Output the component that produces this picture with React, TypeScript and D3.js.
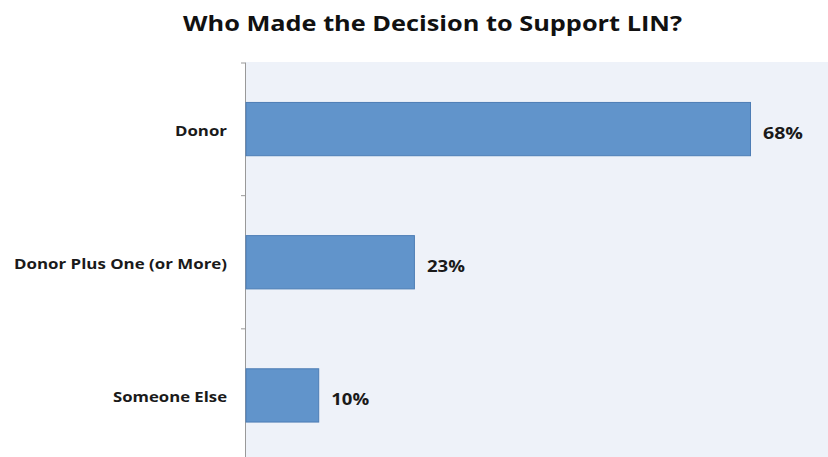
import React from "react";
import * as d3 from "d3";

const categories = ["Donor", "Donor Plus One (or More)", "Someone Else"];
const values = [68, 22.7, 9.8];
const labelWidths = [52, 213, 114];
const valueLabelWidths = [40, 38, 38];
const title = "Who Made the Decision to Support LIN?";

export default function App() {
  const W = 828, H = 457;
  const x0 = 246;
  const y = d3.scaleBand<string>().domain(categories).range([62.5, 462]).paddingInner(0.6).paddingOuter(0.3);
  const x = d3.scaleLinear().domain([0, 68]).range([x0, 750.5]);
  const font = "'Open Sans', sans-serif";
  const ticks = [63, ...categories.map((c) => (y(c) as number) + y.bandwidth() / 2 + y.step() / 2)];
  return (
    <svg width={W} height={H} style={{ position: "absolute", left: 0, top: 0, background: "#fff" }}>
      <rect x={x0 - 1} y={62} width={W - x0 + 1} height={H - 62} fill="#eef2f9" />
      <text x={432.5} y={31} textAnchor="middle" fontFamily={font} fontWeight={700} fontSize={21} fill="#111" textLength={499} lengthAdjust="spacingAndGlyphs">{title}</text>
      <line x1={x0 - 0.5} x2={x0 - 0.5} y1={63} y2={H} stroke="#999" strokeWidth={1} />
      {ticks.map((t, i) => (
        <line key={i} x1={x0 - 5} x2={x0} y1={t} y2={t} stroke="#999" strokeWidth={1} />
      ))}
      {categories.map((c, i) => {
        const by = y(c) as number;
        const bh = y.bandwidth();
        const cy = by + bh / 2;
        return (
          <g key={c}>
            <rect x={x(0)} y={by} width={x(values[i]) - x(0)} height={bh} fill="#6194cb" stroke="#4d7db5" strokeWidth={1} />
            <text x={227} y={cy + 7} textAnchor="end" fontFamily={font} fontWeight={700} fontSize={15} fill="#1a1a1a" textLength={labelWidths[i]} lengthAdjust="spacingAndGlyphs">{c}</text>
            <text x={x(values[i]) + 12.5} y={cy + 9.5} fontFamily={font} fontWeight={700} fontSize={16.5} fill="#1a1a1a" textLength={valueLabelWidths[i]} lengthAdjust="spacingAndGlyphs">{Math.round(values[i]) + "%"}</text>
          </g>
        );
      })}
    </svg>
  );
}
